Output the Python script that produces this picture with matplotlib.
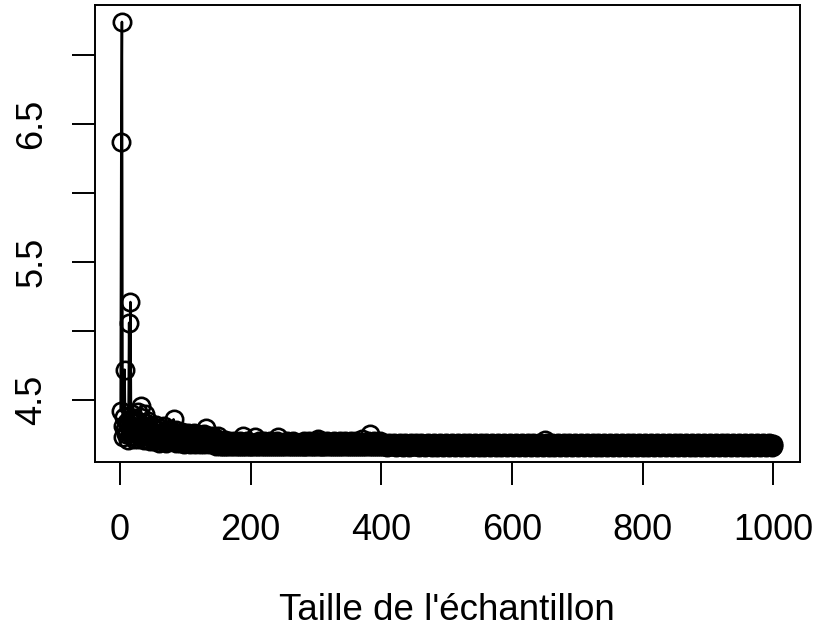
import matplotlib.pyplot as plt
import numpy as np

# Taille de l'échantillon : 1 à 1000
taille = np.arange(1, 1001)

# Valeur de l'estimateur pour chaque taille d'échantillon
estimation = [
    4.42, 6.37, 7.24, 4.23, 4.31, 4.38, 4.72, 4.29, 4.25, 4.34, 4.27, 4.21, 4.31, 5.06, 4.36, 5.21, 4.28, 4.40, 4.24, 4.33, 4.22, 4.37, 4.28, 4.35, 4.25,
    4.30, 4.22, 4.41, 4.26, 4.38, 4.23, 4.46, 4.27, 4.32, 4.24, 4.29, 4.21, 4.40, 4.25, 4.33, 4.22, 4.28, 4.35, 4.24, 4.30, 4.20, 4.27, 4.23, 4.31, 4.22,
    4.26, 4.20, 4.29, 4.23, 4.32, 4.21, 4.25, 4.28, 4.19, 4.24, 4.30, 4.22, 4.26, 4.20, 4.27, 4.23, 4.31, 4.21, 4.25, 4.19, 4.28, 4.22, 4.24, 4.20, 4.26,
    4.22, 4.29, 4.20, 4.25, 4.23, 4.27, 4.36, 4.21, 4.24, 4.19, 4.28, 4.22, 4.25, 4.20, 4.23, 4.26, 4.19, 4.24, 4.21, 4.27, 4.20, 4.23, 4.18, 4.25, 4.21,
    4.24, 4.19, 4.22, 4.26, 4.20, 4.23, 4.18, 4.25, 4.21, 4.19, 4.24, 4.22, 4.20, 4.26, 4.18, 4.23, 4.21, 4.19, 4.25, 4.20, 4.22, 4.18, 4.24, 4.21, 4.19,
    4.23, 4.20, 4.25, 4.18, 4.22, 4.21, 4.30, 4.19, 4.24, 4.20, 4.18, 4.23, 4.21, 4.19, 4.22, 4.24, 4.18, 4.20, 4.23, 4.19, 4.21, 4.17, 4.22, 4.20, 4.24,
    4.19, 4.18, 4.17, 4.20, 4.18, 4.17, 4.19, 4.18, 4.17, 4.19, 4.21, 4.18, 4.17, 4.19, 4.18, 4.17, 4.20, 4.18, 4.19, 4.17, 4.18, 4.19, 4.17, 4.18, 4.20,
    4.18, 4.17, 4.19, 4.18, 4.17, 4.19, 4.18, 4.20, 4.17, 4.18, 4.19, 4.17, 4.24, 4.18, 4.17, 4.19, 4.18, 4.17, 4.20, 4.18, 4.19, 4.17, 4.18, 4.17, 4.19,
    4.18, 4.17, 4.19, 4.18, 4.17, 4.19, 4.23, 4.18, 4.17, 4.19, 4.18, 4.17, 4.20, 4.18, 4.19, 4.17, 4.18, 4.19, 4.17, 4.18, 4.20, 4.17, 4.18, 4.19, 4.17,
    4.18, 4.19, 4.17, 4.18, 4.20, 4.17, 4.19, 4.18, 4.17, 4.19, 4.18, 4.17, 4.19, 4.18, 4.17, 4.20, 4.23, 4.18, 4.17, 4.19, 4.18, 4.17, 4.19, 4.18, 4.17,
    4.19, 4.18, 4.17, 4.19, 4.18, 4.20, 4.17, 4.18, 4.19, 4.17, 4.18, 4.19, 4.17, 4.18, 4.20, 4.17, 4.19, 4.18, 4.17, 4.19, 4.18, 4.17, 4.19, 4.18, 4.17,
    4.18, 4.19, 4.17, 4.18, 4.19, 4.17, 4.20, 4.18, 4.17, 4.19, 4.18, 4.17, 4.19, 4.18, 4.20, 4.17, 4.18, 4.19, 4.17, 4.18, 4.19, 4.17, 4.18, 4.20, 4.17,
    4.19, 4.18, 4.22, 4.17, 4.18, 4.19, 4.17, 4.18, 4.20, 4.17, 4.19, 4.18, 4.17, 4.19, 4.18, 4.17, 4.20, 4.18, 4.19, 4.17, 4.18, 4.19, 4.17, 4.18, 4.19,
    4.17, 4.18, 4.20, 4.17, 4.19, 4.18, 4.17, 4.19, 4.18, 4.17, 4.19, 4.20, 4.18, 4.17, 4.19, 4.18, 4.17, 4.19, 4.18, 4.20, 4.17, 4.18, 4.19, 4.17, 4.18,
    4.19, 4.17, 4.18, 4.20, 4.17, 4.19, 4.18, 4.17, 4.19, 4.18, 4.17, 4.20, 4.18, 4.19, 4.17, 4.18, 4.19, 4.17, 4.18, 4.22, 4.17, 4.19, 4.18, 4.17, 4.19,
    4.18, 4.17, 4.19, 4.20, 4.18, 4.17, 4.19, 4.25, 4.18, 4.17, 4.19, 4.18, 4.17, 4.20, 4.18, 4.17, 4.19, 4.18, 4.17, 4.19, 4.18, 4.17, 4.20, 4.18, 4.17,
    4.18, 4.17, 4.18, 4.19, 4.17, 4.18, 4.17, 4.18, 4.16, 4.18, 4.17, 4.19, 4.18, 4.17, 4.18, 4.17, 4.18, 4.17, 4.19, 4.18, 4.17, 4.18, 4.16, 4.18, 4.17,
    4.17, 4.18, 4.17, 4.19, 4.18, 4.17, 4.18, 4.16, 4.18, 4.17, 4.18, 4.19, 4.17, 4.18, 4.17, 4.18, 4.17, 4.16, 4.18, 4.17, 4.19, 4.18, 4.17, 4.18, 4.17,
    4.18, 4.17, 4.19, 4.17, 4.18, 4.17, 4.18, 4.16, 4.17, 4.18, 4.19, 4.17, 4.18, 4.17, 4.18, 4.17, 4.16, 4.18, 4.17, 4.18, 4.19, 4.17, 4.18, 4.17, 4.18,
    4.17, 4.18, 4.16, 4.18, 4.17, 4.19, 4.18, 4.17, 4.18, 4.17, 4.16, 4.18, 4.17, 4.18, 4.19, 4.17, 4.18, 4.17, 4.18, 4.16, 4.17, 4.18, 4.17, 4.19, 4.18,
    4.17, 4.18, 4.17, 4.16, 4.18, 4.17, 4.18, 4.19, 4.17, 4.18, 4.17, 4.18, 4.16, 4.17, 4.18, 4.17, 4.19, 4.18, 4.17, 4.18, 4.17, 4.16, 4.18, 4.17, 4.18,
    4.19, 4.17, 4.18, 4.17, 4.18, 4.16, 4.17, 4.18, 4.19, 4.17, 4.18, 4.17, 4.18, 4.17, 4.16, 4.18, 4.17, 4.19, 4.18, 4.17, 4.18, 4.17, 4.18, 4.16, 4.17,
    4.18, 4.19, 4.17, 4.18, 4.17, 4.18, 4.16, 4.17, 4.18, 4.17, 4.19, 4.18, 4.17, 4.18, 4.17, 4.16, 4.18, 4.17, 4.18, 4.19, 4.17, 4.18, 4.17, 4.18, 4.16,
    4.17, 4.18, 4.17, 4.19, 4.18, 4.17, 4.18, 4.16, 4.17, 4.18, 4.17, 4.18, 4.19, 4.17, 4.18, 4.17, 4.16, 4.18, 4.17, 4.18, 4.17, 4.19, 4.18, 4.17, 4.18,
    4.17, 4.16, 4.18, 4.17, 4.18, 4.19, 4.17, 4.18, 4.17, 4.18, 4.16, 4.17, 4.18, 4.17, 4.19, 4.18, 4.17, 4.18, 4.17, 4.16, 4.18, 4.17, 4.18, 4.19, 4.17,
    4.18, 4.17, 4.18, 4.16, 4.17, 4.18, 4.17, 4.19, 4.18, 4.17, 4.18, 4.17, 4.16, 4.18, 4.17, 4.18, 4.19, 4.17, 4.18, 4.17, 4.18, 4.16, 4.17, 4.18, 4.21,
    4.17, 4.18, 4.17, 4.19, 4.18, 4.16, 4.17, 4.18, 4.17, 4.18, 4.19, 4.17, 4.18, 4.17, 4.16, 4.18, 4.17, 4.18, 4.17, 4.19, 4.18, 4.17, 4.18, 4.16, 4.17,
    4.18, 4.17, 4.18, 4.19, 4.17, 4.18, 4.17, 4.16, 4.18, 4.17, 4.18, 4.17, 4.19, 4.18, 4.17, 4.18, 4.16, 4.17, 4.18, 4.17, 4.18, 4.19, 4.17, 4.18, 4.17,
    4.16, 4.18, 4.17, 4.18, 4.17, 4.19, 4.18, 4.17, 4.18, 4.16, 4.17, 4.18, 4.17, 4.18, 4.19, 4.17, 4.18, 4.17, 4.16, 4.18, 4.17, 4.18, 4.17, 4.19, 4.18,
    4.17, 4.18, 4.16, 4.17, 4.18, 4.17, 4.19, 4.18, 4.17, 4.18, 4.17, 4.16, 4.18, 4.17, 4.18, 4.19, 4.17, 4.18, 4.17, 4.18, 4.16, 4.17, 4.18, 4.17, 4.19,
    4.18, 4.17, 4.18, 4.17, 4.16, 4.18, 4.17, 4.18, 4.19, 4.17, 4.18, 4.17, 4.18, 4.16, 4.17, 4.18, 4.17, 4.19, 4.18, 4.17, 4.18, 4.17, 4.16, 4.18, 4.17,
    4.18, 4.19, 4.17, 4.18, 4.17, 4.18, 4.16, 4.17, 4.18, 4.17, 4.19, 4.18, 4.17, 4.18, 4.17, 4.16, 4.18, 4.17, 4.18, 4.19, 4.17, 4.18, 4.17, 4.18, 4.16,
    4.17, 4.18, 4.17, 4.19, 4.18, 4.17, 4.18, 4.17, 4.16, 4.18, 4.17, 4.18, 4.19, 4.17, 4.18, 4.17, 4.18, 4.16, 4.17, 4.18, 4.17, 4.19, 4.18, 4.17, 4.18,
    4.17, 4.16, 4.18, 4.17, 4.18, 4.19, 4.17, 4.18, 4.17, 4.18, 4.16, 4.17, 4.18, 4.17, 4.19, 4.18, 4.17, 4.18, 4.17, 4.16, 4.18, 4.17, 4.18, 4.19, 4.17,
    4.18, 4.17, 4.18, 4.16, 4.17, 4.18, 4.17, 4.19, 4.18, 4.17, 4.18, 4.17, 4.16, 4.18, 4.17, 4.18, 4.19, 4.17, 4.18, 4.17, 4.18, 4.16, 4.17, 4.18, 4.17,
    4.19, 4.18, 4.17, 4.18, 4.17, 4.16, 4.18, 4.17, 4.18, 4.19, 4.17, 4.18, 4.17, 4.18, 4.16, 4.17, 4.18, 4.17, 4.19, 4.18, 4.17, 4.18, 4.17, 4.16, 4.18,
    4.17, 4.18, 4.19, 4.17, 4.18, 4.17, 4.18, 4.16, 4.17, 4.18, 4.17, 4.19, 4.18, 4.17, 4.18, 4.17, 4.16, 4.18, 4.17, 4.18, 4.19, 4.17, 4.18, 4.17, 4.18,
    4.16, 4.17, 4.18, 4.17, 4.19, 4.18, 4.17, 4.18, 4.17, 4.16, 4.18, 4.17, 4.18, 4.19, 4.17, 4.18, 4.17, 4.18, 4.16, 4.17, 4.18, 4.17, 4.19, 4.18, 4.17,
    4.18, 4.17, 4.16, 4.18, 4.17, 4.18, 4.19, 4.17, 4.18, 4.17, 4.18, 4.16, 4.17, 4.18, 4.17, 4.19, 4.18, 4.17, 4.18, 4.17, 4.16, 4.18, 4.17, 4.18, 4.19,
    4.17, 4.18, 4.17, 4.18, 4.16, 4.17, 4.18, 4.17, 4.19, 4.18, 4.17, 4.18, 4.17, 4.16, 4.18, 4.17, 4.18, 4.19, 4.17, 4.18, 4.17, 4.18, 4.16, 4.17, 4.18,
]

xticks = [0, 200, 400, 600, 800, 1000]
yticks = [4.5, 5.0, 5.5, 6.0, 6.5, 7.0]
ytick_labels = ['4.5', '', '5.5', '', '6.5', '']

plt.rcParams['font.family'] = ['Liberation Sans', 'DejaVu Sans']

W, H = 816, 638
fig = plt.figure(figsize=(W / 100, H / 100), dpi=100)
ax = fig.add_axes([94.5 / W, 1 - 462 / H, (800 - 94.5) / W, (462 - 4.5) / H])

# points reliés par une ligne (cercles vides)
ax.plot(taille, estimation, '-o', color='black', lw=1.8,
        ms=12.5, mfc='none', mec='black', mew=1.9)

ax.set_xlim(-39, 1041)
ax.set_ylim(4.0507, 7.366)
ax.set_xticks(xticks)
ax.set_xticklabels([str(t) for t in xticks], fontsize=26)
ax.set_yticks(yticks)
ax.set_yticklabels(ytick_labels, fontsize=26, rotation=90, va='center')
ax.tick_params(axis='x', length=16.5, width=1.4, pad=20)
ax.tick_params(axis='y', length=16.5, width=1.4, pad=16)
for s in ax.spines.values():
    s.set_linewidth(1.4)

fig.text(447 / W, 1 - 611 / H, "Taille de l'échantillon", fontsize=26.5,
         ha='center', va='center')

fig.savefig('out.png', dpi=100)
